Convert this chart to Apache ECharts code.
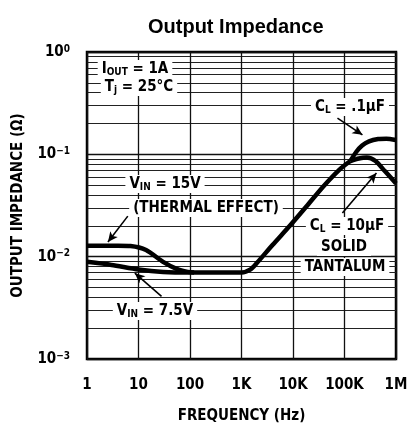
<!DOCTYPE html>
<html>
<head>
<meta charset="utf-8">
<script src="https://cdn.jsdelivr.net/npm/echarts@6/dist/echarts.min.js"></script>
<style>
  html, body { margin: 0; padding: 0; background: #fff; }
  #chart { width: 409px; height: 423px; }
</style>
</head>
<body>
<div id="chart"></div>
<script>
// tick labels
const xTickValues = [1, 10, 100, 1e3, 1e4, 1e5, 1e6]
const xTickLabels = ['1', '10', '100', '1K', '10K', '100K', '1M']
const yTickValues = [1e-3, 1e-2, 1e-1, 1]
const yTickExponents = ['−3', '−2', '−1', '0']

// V_IN = 7.5V, common part of both capacitor curves
const baseFreq = [1, 3, 10, 30, 100, 300, 1000, 1500, 2000, 4000, 8600, 18000, 38000, 80000, 130000]
const baseZ = [0.0089, 0.0083, 0.0075, 0.0071, 0.0070, 0.0070, 0.0070, 0.0075, 0.0087, 0.0130, 0.0199, 0.0307, 0.048, 0.071, 0.086]

// V_IN = 15V (thermal effect)
const vin15Freq = [1, 4, 7, 14, 30, 55, 90, 120]
const vin15Z = [0.0128, 0.0128, 0.0127, 0.0116, 0.0089, 0.0076, 0.0071, 0.0070]

// C_L = .1uF branch
const cl01Freq = [130000, 170000, 220000, 300000, 450000, 650000, 1000000]
const cl01Z = [0.086, 0.106, 0.122, 0.134, 0.141, 0.142, 0.138]

// C_L = 10uF solid tantalum branch
const cl10Freq = [130000, 190000, 270000, 400000, 600000, 1000000]
const cl10Z = [0.086, 0.091, 0.093, 0.086, 0.069, 0.052]

// annotation arrows [from, to] in data units
const arrows = [
  [[73000, 0.226], [223000, 0.155]],
  [[6.2, 0.0249], [2.55, 0.0139]],
  [[91000, 0.0267], [417000, 0.0656]],
  [[28, 0.0041], [8.5, 0.0069]]
]

const FONT = "'Liberation Sans Narrow', 'DejaVu Sans Condensed', 'Liberation Sans', sans-serif"
const zip = (xs, ys) => xs.map((x, i) => [x, ys[i]])

const curve = (name, data) => ({
  name,
  type: 'line',
  data,
  smooth: 0.25,
  symbol: 'none',
  lineStyle: { color: '#000', width: 4.5 },
  z: 3
})

const richText = {
  n: { fontFamily: FONT, fontWeight: 'bold', fontSize: 15, lineHeight: 16, color: '#000' },
  s: { fontFamily: FONT, fontWeight: 'bold', fontSize: 10, lineHeight: 10, verticalAlign: 'bottom', color: '#000' }
}

const note = (text, x, y) => ({
  type: 'text',
  x, y,
  z: 100,
  style: {
    text,
    rich: richText,
    align: 'center',
    verticalAlign: 'middle',
    backgroundColor: '#fff',
    padding: [1, 4, 1, 4]
  }
})

const chart = echarts.init(document.getElementById('chart'))

chart.setOption({
  animation: false,
  backgroundColor: '#fff',
  title: {
    text: 'Output Impedance',
    left: 143,
    top: 12,
    textStyle: { fontFamily: "'Liberation Sans', Arial, sans-serif", fontWeight: 'bold', fontSize: 20, color: '#000' }
  },
  grid: {
    left: 87, right: 13, top: 52, bottom: 64,
    outerBoundsMode: 'none',
    containLabel: false,
    show: true,
    borderColor: '#000',
    borderWidth: 2.5
  },
  xAxis: {
    type: 'log',
    logBase: 10,
    min: 1,
    max: 1e6,
    splitNumber: 6,
    name: 'FREQUENCY (Hz)',
    nameLocation: 'middle',
    nameGap: 50,
    nameTextStyle: { fontFamily: FONT, fontWeight: 'bold', fontSize: 15, color: '#000' },
    axisLine: { show: false },
    axisTick: { show: false },
    axisLabel: {
      margin: 19,
      fontFamily: FONT, fontWeight: 'bold', fontSize: 15, color: '#000',
      formatter: (v) => {
        const i = xTickValues.findIndex(t => Math.abs(Math.log10(t) - Math.log10(v)) < 1e-6)
        return i >= 0 ? xTickLabels[i] : ''
      }
    },
    splitLine: { show: true, lineStyle: { color: '#111', width: 1.3 } }
  },
  yAxis: {
    type: 'log',
    logBase: 10,
    min: 1e-3,
    max: 1,
    splitNumber: 3,
    name: 'OUTPUT IMPEDANCE (Ω)',
    nameLocation: 'middle',
    nameGap: 61,
    nameRotate: 90,
    nameTextStyle: { fontFamily: FONT, fontWeight: 'bold', fontSize: 15, color: '#000' },
    axisLine: { show: false },
    axisTick: { show: false },
    axisLabel: {
      margin: 17,
      formatter: (v) => {
        const i = yTickValues.findIndex(t => Math.abs(Math.log10(t) - Math.log10(v)) < 1e-6)
        return i >= 0 ? '{b|10}{e|' + yTickExponents[i] + '}' : ''
      },
      rich: {
        b: { fontFamily: FONT, fontWeight: 'bold', fontSize: 15, lineHeight: 16, color: '#000' },
        e: { fontFamily: FONT, fontWeight: 'bold', fontSize: 10, lineHeight: 10, verticalAlign: 'top', color: '#000' }
      }
    },
    splitLine: { show: true, lineStyle: { color: '#111', width: 1.4 } },
    minorTick: { show: false, splitNumber: 9 },
    minorSplitLine: { show: true, lineStyle: { color: '#222', width: 1.1 } }
  },
  series: [
    Object.assign(curve('V_IN = 7.5V', zip(baseFreq, baseZ)), {
      markLine: {
        silent: true,
        symbol: ['none', 'arrow'],
        symbolSize: [7, 10],
        label: { show: false },
        lineStyle: { color: '#000', width: 1.6, type: 'solid' },
        data: arrows.map(([a, b]) => [{ coord: a }, { coord: b }])
      }
    }),
    curve('V_IN = 15V', zip(vin15Freq, vin15Z)),
    curve('C_L = .1uF', zip(cl01Freq, cl01Z)),
    curve('C_L = 10uF', zip(cl10Freq, cl10Z))
  ],
  graphic: [
    note('{n|I}{s|OUT}{n| = 1A}', 135, 69),
    note('{n|T}{s|j}{n| = 25°C}', 139, 87),
    note('{n|C}{s|L}{n| = .1μF}', 350, 107),
    note('{n|V}{s|IN}{n| = 15V}', 165, 184),
    note('{n|(THERMAL EFFECT)}', 206, 208),
    note('{n|C}{s|L}{n| = 10μF}', 347, 226),
    note('{n|SOLID}', 344, 247),
    note('{n|TANTALUM}', 345, 267),
    note('{n|V}{s|IN}{n| = 7.5V}', 155, 311)
  ]
})
</script>
</body>
</html>
